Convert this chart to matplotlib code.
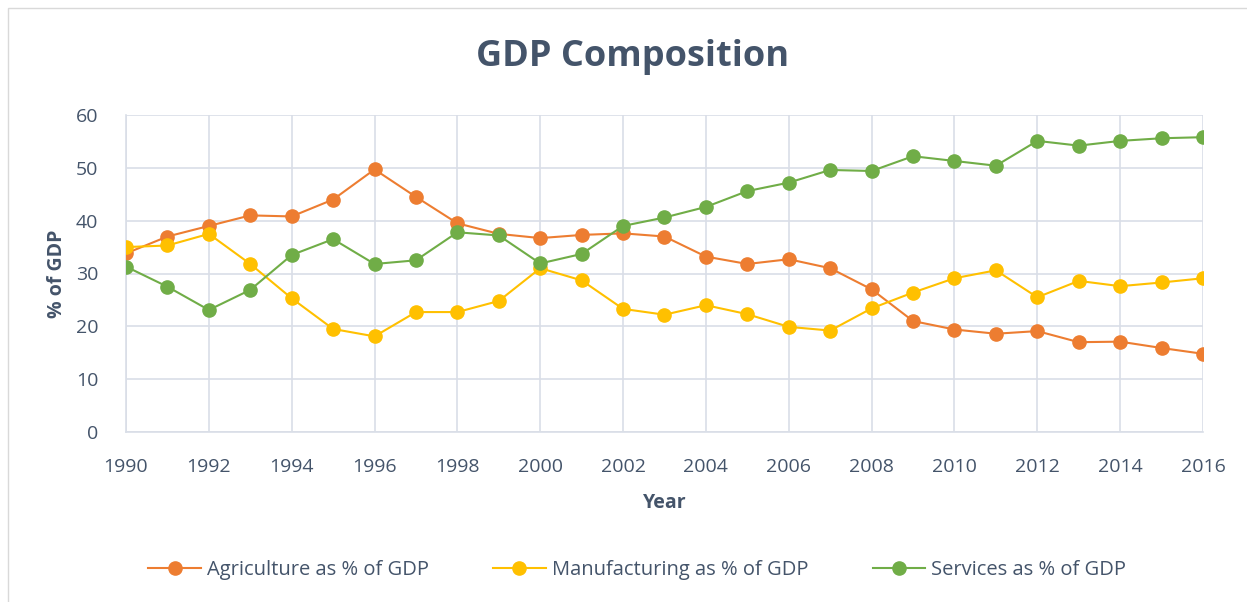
import matplotlib.pyplot as plt
from matplotlib.patches import Rectangle

plt.rcParams['font.family'] = ['Open Sans', 'DejaVu Sans']

years = list(range(1990, 2017))
agriculture = [33.8, 37.0, 39.0, 41.0, 40.8, 44.0, 49.7, 44.5, 39.5, 37.5,
               36.7, 37.3, 37.6, 37.0, 33.2, 31.8, 32.7, 31.0, 27.0, 21.0,
               19.4, 18.6, 19.1, 17.0, 17.1, 15.9, 14.8]
manufacturing = [35.0, 35.3, 37.5, 31.8, 25.3, 19.5, 18.1, 22.7, 22.7, 24.8,
                 31.0, 28.7, 23.3, 22.2, 24.0, 22.3, 19.9, 19.2, 23.4, 26.4,
                 29.1, 30.6, 25.5, 28.6, 27.6, 28.3, 29.1]
services = [31.3, 27.5, 23.1, 26.9, 33.5, 36.5, 31.8, 32.5, 37.8, 37.2,
            31.9, 33.7, 39.0, 40.6, 42.6, 45.6, 47.2, 49.6, 49.4, 52.2,
            51.3, 50.4, 55.1, 54.2, 55.1, 55.6, 55.8]
labels = ['Agriculture as % of GDP', 'Manufacturing as % of GDP', 'Services as % of GDP']
colors = ['#ED7D31', '#FFC000', '#70AD47']

text_col = '#44546A'
grid_col = '#D9DEE7'

fig = plt.figure(figsize=(12.47, 6.02), dpi=100)
ax = fig.add_axes([126/1247, 1 - 432/602, (1203-126)/1247, (432-115)/602])

for vals, lab, c in zip([agriculture, manufacturing, services], labels, colors):
    ax.plot(years, vals, color=c, lw=1.5, marker='o', markersize=9.5,
            markerfacecolor=c, markeredgecolor=c, label=lab, zorder=3)

ax.set_xlim(1990, 2016)
ax.set_ylim(0, 60)
ax.set_xticks(range(1990, 2017, 2))
ax.set_yticks(range(0, 61, 10))
ax.grid(True, color=grid_col, lw=1.2)
ax.set_axisbelow(True)
for s in ['top', 'right']:
    ax.spines[s].set_visible(False)
for s in ['left', 'bottom']:
    ax.spines[s].set_color(grid_col)
    ax.spines[s].set_linewidth(1.2)
ax.tick_params(axis='x', length=0, labelsize=14, labelcolor=text_col, pad=19)
ax.tick_params(axis='y', length=0, labelsize=14, labelcolor=text_col, pad=20)

ax.set_xlabel('Year', fontsize=14, fontweight='bold', color=text_col, labelpad=12)
ax.set_ylabel('% of GDP', fontsize=14, fontweight='bold', color=text_col, labelpad=6)
fig.text(0.507, 1 - 57/602, 'GDP Composition', ha='center', va='center',
         fontsize=26, fontweight='bold', color=text_col)

fig.legend(loc='center', bbox_to_anchor=(0.511, 1 - 570/602), ncol=3,
           frameon=False, fontsize=14.5, handlelength=2.6,
           columnspacing=3.2, handletextpad=0.3, labelcolor=text_col)

fig.patches.append(Rectangle((8/1247, -0.01), 1.02, 1 - 8/602 + 0.01,
                             transform=fig.transFigure, fill=False,
                             edgecolor='#D9D9D9', lw=1))

fig.savefig('out.png', dpi=100)
